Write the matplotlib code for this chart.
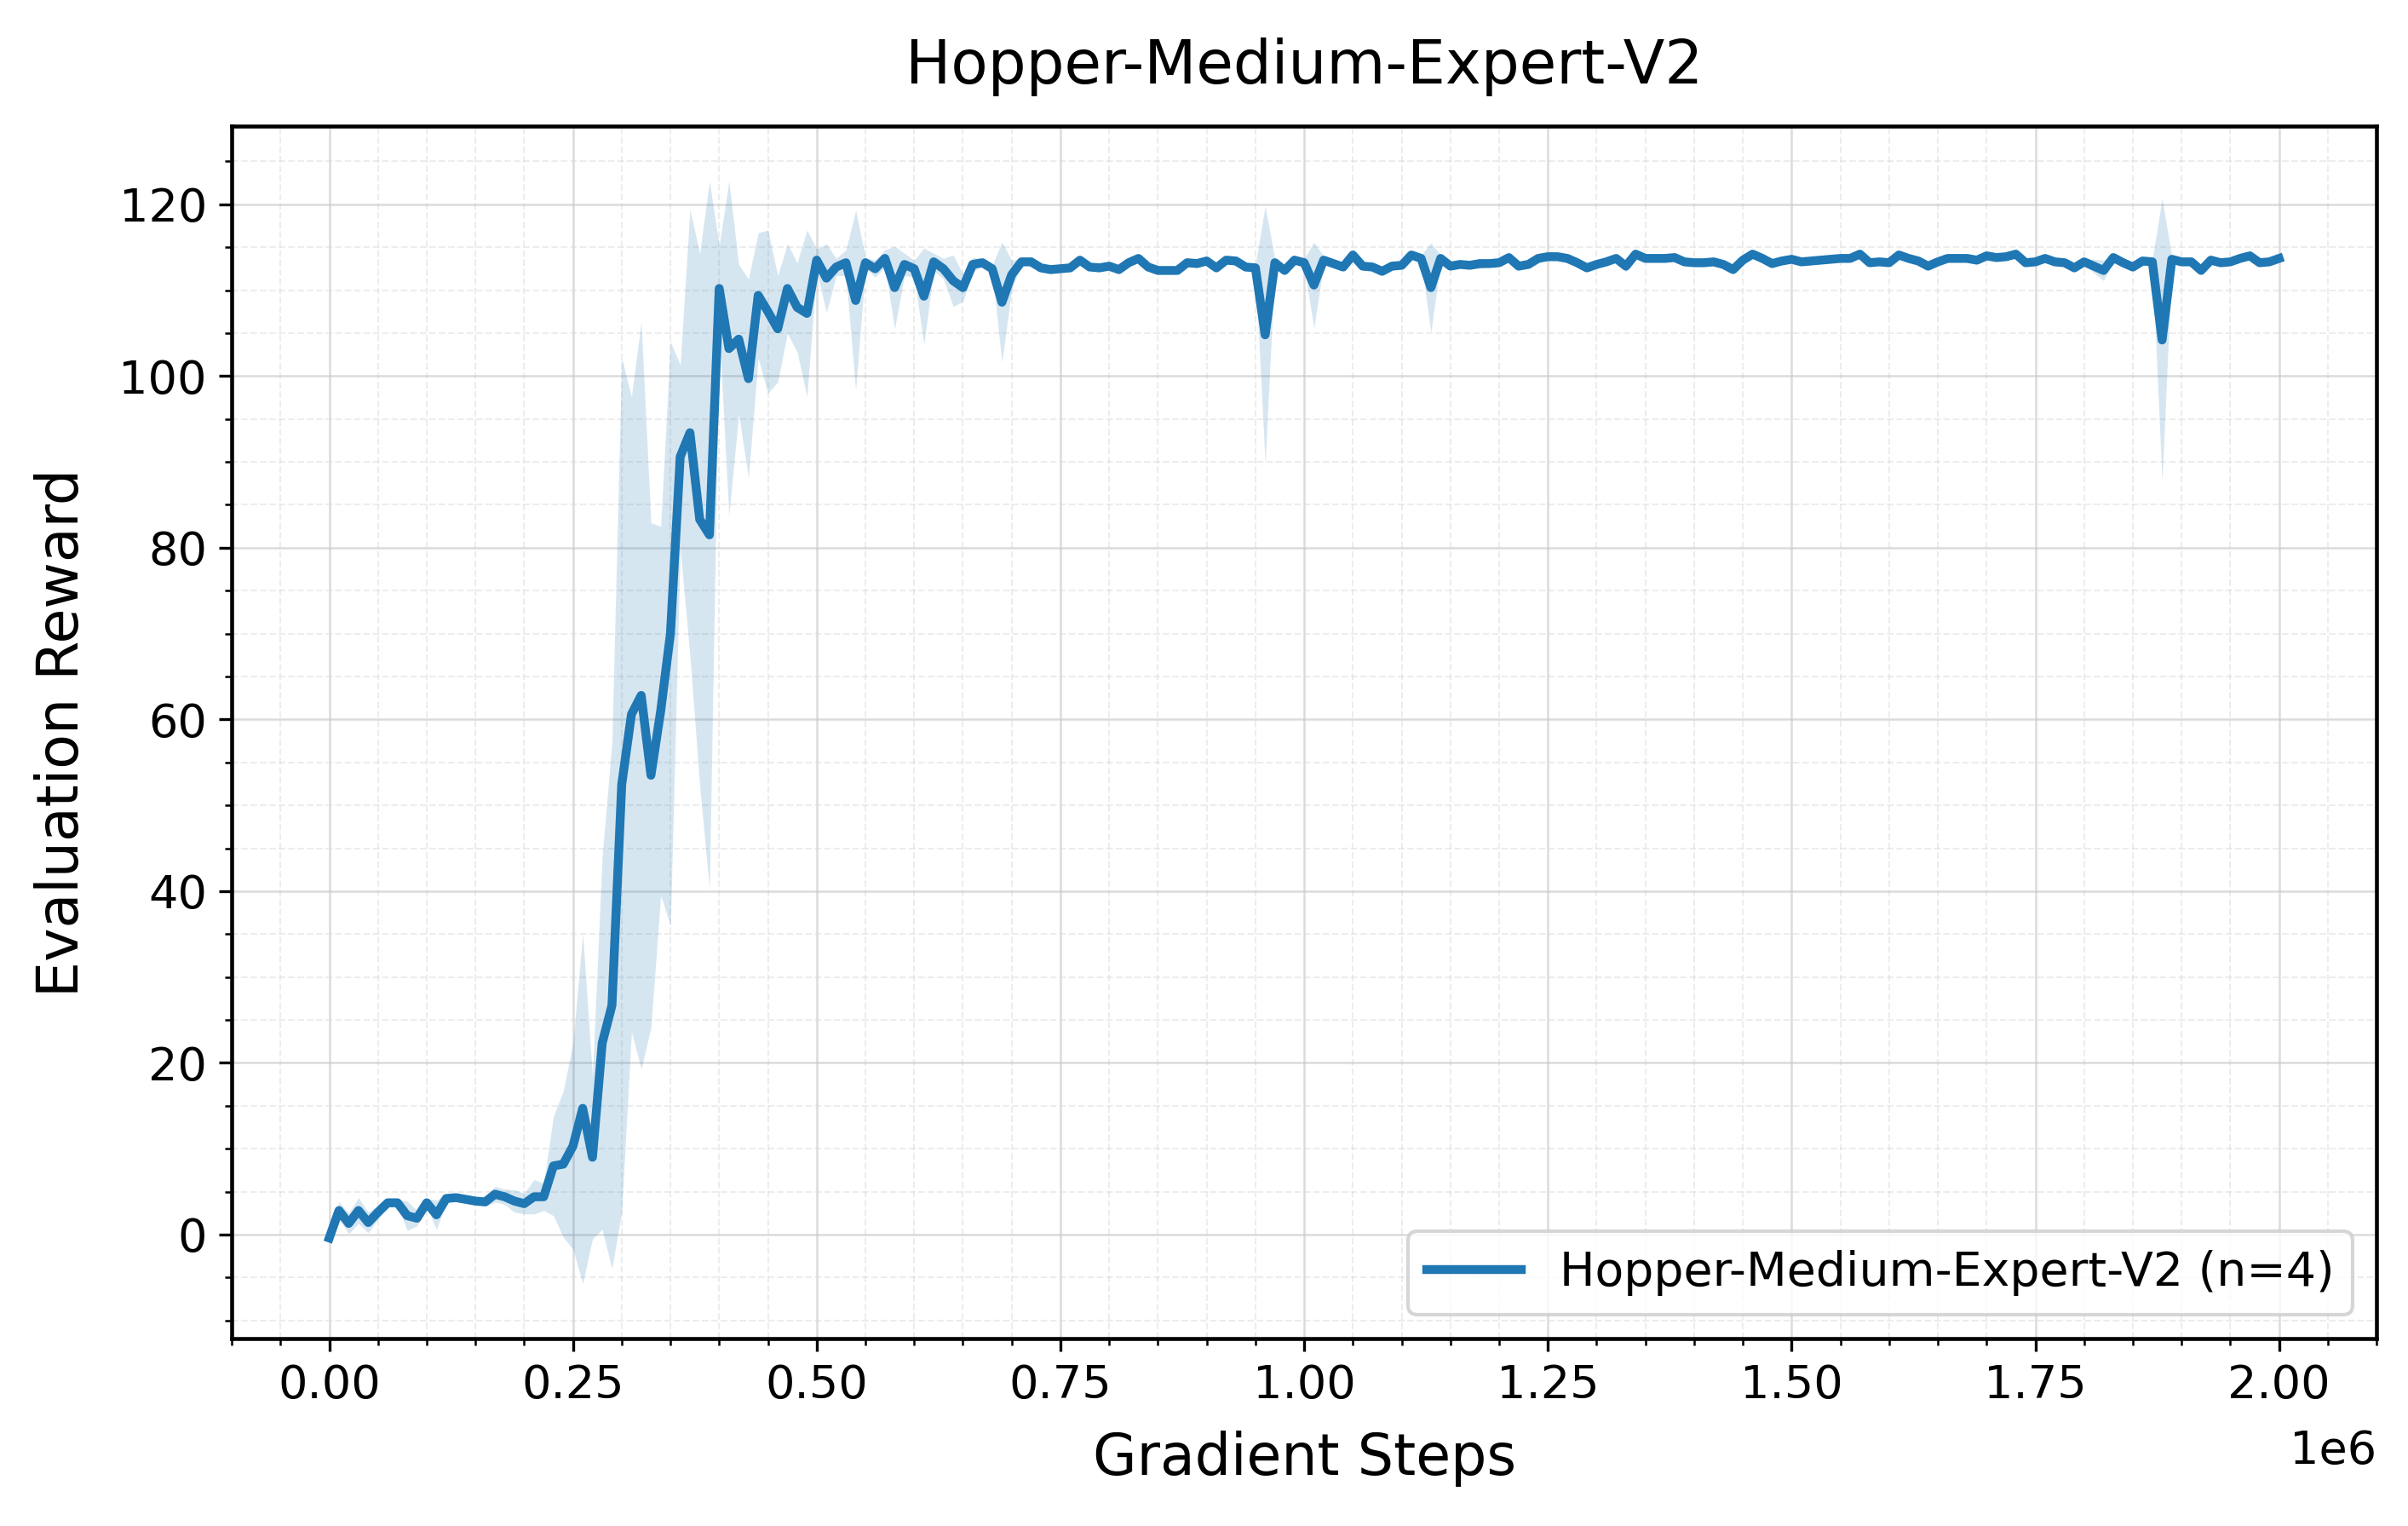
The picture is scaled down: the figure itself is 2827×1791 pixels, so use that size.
import numpy as np
import matplotlib
matplotlib.use("Agg")
import matplotlib.pyplot as plt
from matplotlib.ticker import AutoMinorLocator

# evaluation every 10k gradient steps
steps = np.arange(0, 2_000_001, 10_000)

# mean evaluation reward over the 4 seeds
mean_reward = np.array([
    -0.4, 2.8, 1.3, 2.8, 1.4, 2.6, 3.7, 3.7, 2.2, 1.9,
    3.7, 2.3, 4.2, 4.3, 4.1, 3.9, 3.8, 4.7, 4.4, 3.9,
    3.6, 4.4, 4.4, 8.0, 8.2, 10.3, 14.7, 9.0, 22.3, 26.7,
    52.4, 60.6, 62.8, 53.5, 61.0, 70.0, 90.6, 93.4, 83.3, 81.5,
    110.2, 103.2, 104.3, 99.7, 109.4, 107.5, 105.5, 110.2, 108.0, 107.3,
    113.5, 111.4, 112.7, 113.2, 108.8, 113.2, 112.5, 113.7, 110.3, 113.0,
    112.5, 109.3, 113.3, 112.5, 111.1, 110.3, 113.0, 113.2, 112.5, 108.6,
    111.8, 113.3, 113.3, 112.6, 112.4, 112.5, 112.6, 113.5, 112.7, 112.6,
    112.8, 112.4, 113.2, 113.7, 112.7, 112.3, 112.3, 112.3, 113.2, 113.1,
    113.4, 112.6, 113.5, 113.4, 112.7, 112.6, 104.8, 113.2, 112.3, 113.5,
    113.2, 110.6, 113.5, 113.1, 112.7, 114.1, 112.8, 112.7, 112.2, 112.8,
    112.9, 114.1, 113.7, 110.3, 113.7, 112.8, 113.0, 112.9, 113.1, 113.1,
    113.2, 113.8, 112.8, 113.0, 113.7, 113.9, 113.9, 113.7, 113.2, 112.6,
    113.0, 113.3, 113.7, 112.8, 114.2, 113.7, 113.7, 113.7, 113.8, 113.3,
    113.2, 113.2, 113.3, 113.0, 112.4, 113.5, 114.2, 113.7, 113.1, 113.4,
    113.6, 113.3, 113.4, 113.5, 113.6, 113.7, 113.7, 114.2, 113.2, 113.3,
    113.2, 114.1, 113.7, 113.4, 112.8, 113.3, 113.7, 113.7, 113.7, 113.5,
    114.0, 113.8, 113.9, 114.2, 113.2, 113.3, 113.7, 113.3, 113.2, 112.6,
    113.3, 112.8, 112.3, 113.8, 113.2, 112.7, 113.4, 113.3, 104.2, 113.6,
    113.3, 113.3, 112.3, 113.5, 113.2, 113.3, 113.7, 114.0, 113.2, 113.3,
    113.7,
])

# std across seeds (shaded band)
std_reward = np.array([
    0.3, 1.0, 1.2, 1.5, 1.2, 0.8, 0.5, 0.4, 1.7, 0.9,
    0.5, 1.7, 0.5, 0.3, 0.3, 0.4, 0.5, 0.9, 0.9, 1.3,
    1.2, 2.0, 1.6, 5.8, 8.5, 12.0, 20.4, 9.5, 21.7, 30.7,
    49.7, 37.0, 43.5, 29.4, 21.5, 34.0, 10.7, 26.0, 31.0, 41.2,
    5.0, 19.5, 8.7, 11.6, 7.3, 9.5, 6.2, 5.2, 5.2, 9.7,
    1.3, 4.0, 1.0, 1.5, 10.5, 0.6, 1.0, 1.0, 4.8, 1.3,
    1.0, 5.6, 1.0, 1.2, 3.0, 1.6, 0.8, 0.5, 0.4, 7.0,
    1.7, 0.3, 0.3, 0.3, 0.3, 0.3, 0.3, 0.3, 0.3, 0.3,
    0.3, 0.3, 0.3, 0.3, 0.3, 0.3, 0.3, 0.3, 0.3, 0.3,
    0.3, 0.3, 0.3, 0.3, 0.3, 0.4, 15.0, 0.4, 0.3, 0.4,
    0.5, 5.0, 0.5, 0.3, 0.3, 0.3, 0.3, 0.3, 0.3, 0.3,
    0.3, 0.3, 0.4, 5.2, 0.4, 0.3, 0.3, 0.3, 0.6, 0.3,
    0.3, 0.3, 0.3, 0.3, 0.3, 0.3, 0.3, 0.3, 0.3, 0.3,
    0.3, 0.3, 0.3, 0.7, 0.3, 0.3, 0.3, 0.3, 0.3, 0.3,
    0.3, 0.3, 0.3, 0.3, 0.3, 0.3, 0.3, 0.3, 0.3, 0.3,
    0.3, 0.3, 0.3, 0.3, 0.3, 0.3, 0.3, 0.3, 0.3, 0.3,
    0.3, 0.3, 0.3, 0.3, 0.3, 0.3, 0.3, 0.3, 0.3, 0.3,
    0.3, 0.3, 0.3, 0.3, 0.3, 0.3, 0.3, 0.3, 0.3, 0.3,
    0.3, 0.8, 1.2, 0.3, 0.3, 0.3, 0.3, 0.3, 16.5, 0.3,
    0.3, 0.3, 0.3, 0.3, 0.3, 0.3, 0.3, 0.3, 0.3, 0.3,
    0.3,
])

env_name = "Hopper-Medium-Expert-V2"
n_seeds = 4
color = "#1f77b4"

fig, ax = plt.subplots(figsize=(2828 / 300, 1791 / 300), dpi=300)
fig.subplots_adjust(left=0.0962, right=0.9866, top=0.9174, bottom=0.1228)

ax.fill_between(steps, mean_reward - std_reward, mean_reward + std_reward,
                color=color, alpha=0.18, linewidth=0)
ax.plot(steps, mean_reward, color=color, lw=2.5,
        label=f"{env_name} (n={n_seeds})")

ax.set_title(env_name, fontsize=17, pad=12)
ax.set_xlabel("Gradient Steps", fontsize=16, labelpad=6.5)
ax.set_ylabel("Evaluation Reward", fontsize=16, labelpad=8)
ax.tick_params(labelsize=13)
ax.xaxis.get_offset_text().set_fontsize(13)
ax.xaxis.OFFSETTEXTPAD = 6

ax.xaxis.set_minor_locator(AutoMinorLocator())
ax.yaxis.set_minor_locator(AutoMinorLocator())
ax.grid(which="major", color="#c8c8c8", alpha=0.65, lw=0.6)
ax.grid(which="minor", color="#d8d8d8", alpha=0.45, lw=0.5, linestyle="--")
ax.set_axisbelow(True)

for sp in ax.spines.values():
    sp.set_linewidth(1.1)

ax.legend(loc="lower right", fontsize=13.3)

fig.savefig("out.png", dpi=300)
